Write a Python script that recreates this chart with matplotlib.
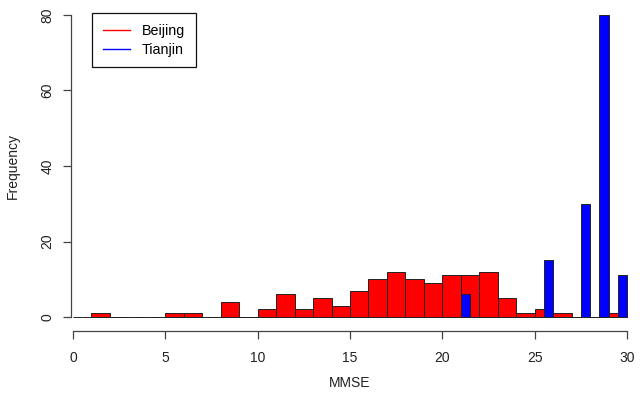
import numpy as np
import matplotlib
matplotlib.use("Agg")
import matplotlib.pyplot as plt

plt.rcParams['font.family'] = ['Liberation Sans', 'DejaVu Sans']

# MMSE histogram counts
beijing_breaks = np.arange(1, 31, 1)        # 1..30, width 1
beijing_counts = [1, 0, 0, 0, 1, 1, 0, 4, 0, 2, 6, 2, 5, 3, 7,
                  10, 12, 10, 9, 11, 11, 12, 5, 1, 2, 1, 0, 0, 1]

tianjin_breaks = np.arange(0, 30.5, 0.5)    # 0..30, width 0.5
tianjin_counts = np.zeros(60)
tianjin_counts[42] = 6    # 21.0-21.5
tianjin_counts[51] = 15   # 25.5-26.0
tianjin_counts[55] = 30   # 27.5-28.0
tianjin_counts[57] = 80   # 28.5-29.0
tianjin_counts[59] = 11   # 29.5-30.0

W, H = 640, 399
fig = plt.figure(figsize=(W / 100, H / 100), dpi=100)
ax = fig.add_axes([71 / W, (H - 330.5) / H, 1 - 71 / W, 330.5 / H])

ax.bar(beijing_breaks[:-1], beijing_counts, width=np.diff(beijing_breaks),
       align='edge', color='#ff0000', edgecolor='#222222', linewidth=0.7)
ax.bar(tianjin_breaks[:-1], tianjin_counts, width=np.diff(tianjin_breaks),
       align='edge', color='#0000ff', edgecolor='#222222', linewidth=0.7)

px_x = 554 / 30.0
px_y = 302 / 80.0
ax.set_xlim(-(73 - 71) / px_x, (W - 73) / px_x)
ax.set_ylim(-(330.5 - 317) / px_y, 317 / px_y)

for s in ['top', 'right']:
    ax.spines[s].set_visible(False)
ax.spines['left'].set_bounds(0, 80)
ax.spines['bottom'].set_bounds(0, 30)
for s in ['left', 'bottom']:
    ax.spines[s].set_color('#444444')
    ax.spines[s].set_linewidth(0.9)

ax.set_xticks([0, 5, 10, 15, 20, 25, 30])
ax.set_yticks([0, 20, 40, 60, 80])
ax.tick_params(axis='both', direction='out', length=6, width=0.9,
               color='#444444', labelsize=10, labelcolor='#222222')
ax.tick_params(axis='x', pad=8.5)
ax.tick_params(axis='y', pad=6)
for lab in ax.get_yticklabels():
    lab.set_rotation(90)
    lab.set_va('center')

fig.text(350 / W, 1 - 383 / H, 'MMSE', ha='center', va='center',
         fontsize=10, color='#222222')
fig.text(13 / W, 1 - 166 / H, 'Frequency', ha='center', va='center',
         rotation=90, fontsize=10, color='#222222')

ax.plot([], [], color='#ff0000', linewidth=1, label='Beijing')
ax.plot([], [], color='#0000ff', linewidth=1, label='Tianjin')
leg = ax.legend(loc='upper left', bbox_to_anchor=(92 / W, 1 - 13.5 / H),
                bbox_transform=fig.transFigure, borderaxespad=0,
                fancybox=False, framealpha=1, edgecolor='#111111',
                fontsize=10.3, handlelength=1.9, handletextpad=0.85,
                labelspacing=0.3, borderpad=0.75)
leg.get_frame().set_linewidth(0.9)

fig.savefig('out.png', dpi=100)
